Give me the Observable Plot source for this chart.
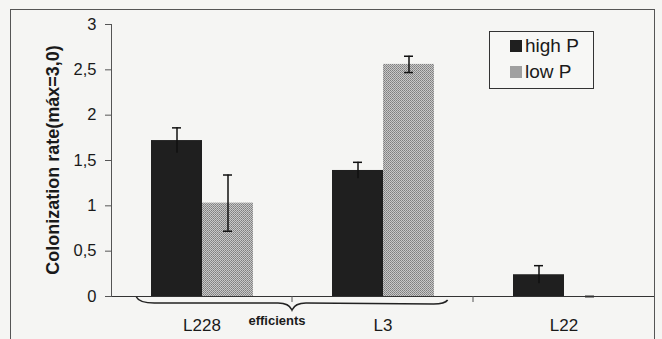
<!DOCTYPE html>
<html>
<head>
<meta charset="utf-8">
<script src="https://cdn.jsdelivr.net/npm/d3@7"></script>
<script src="https://cdn.jsdelivr.net/npm/@observablehq/plot@0.6"></script>
<style>
  html, body { margin: 0; padding: 0; background: #f5f5f3; overflow: hidden; }
  #wrap { position: relative; width: 662px; height: 339px; font-family: "Liberation Sans", Arial, sans-serif; }
  #border { position: absolute; left: 10px; top: 9px; width: 645px; height: 360px; border: 1px solid #555; box-sizing: border-box; pointer-events: none; }
  #legend { position: absolute; left: 489px; top: 31px; width: 105px; height: 58px; border: 1px solid #333; box-sizing: border-box; background: #f7f7f5; padding: 1px 0 0 20px; font-size: 19px; color: #1a1a1a; }
  #legend .item { display: flex; align-items: center; height: 26px; }
  #legend .sw { width: 12px; height: 12px; margin-right: 3px; }
</style>
</head>
<body>
<div id="wrap"><div id="border"></div></div>
<script>
// ---- data ----
const categories = ["L228", "L3", "L22"];
const series = ["high P", "low P"];
const highP = [1.72, 1.39, 0.24];
const lowP = [1.03, 2.56, 0];
const highErr = [0.14, 0.09, 0.10];
const lowErr = [0.31, 0.09, 0];
const yTicks = [0, 0.5, 1, 1.5, 2, 2.5, 3];
const yTickLabels = ["0", "0,5", "1", "1,5", "2", "2,5", "3"];
const yTitle = "Colonization rate(máx=3,0)";
const groupLabel = "efficients";
const groupedCats = ["L228", "L3"];

const seriesFill = {"high P": "#1f1f1f", "low P": "url(#dither)"};
const seriesSwatch = {"high P": "#1f1f1f", "low P": "#a0a0a0"};

const rows = [];
categories.forEach((c, i) => {
  rows.push({cat: c, series: "high P", value: highP[i], err: highErr[i]});
  rows.push({cat: c, series: "low P", value: lowP[i], err: lowErr[i]});
});

const defs = () => {
  const ns = "http://www.w3.org/2000/svg";
  const d = document.createElementNS(ns, "defs");
  d.innerHTML = `<pattern id="dither" width="2" height="2" patternUnits="userSpaceOnUse">
    <rect width="2" height="2" fill="#c8c8c8"/>
    <rect width="1" height="1" fill="#7e7e7e"/>
    <rect x="1" y="1" width="1" height="1" fill="#8e8e8e"/>
  </pattern>`;
  return d;
};

const plot = Plot.plot({
  width: 662,
  height: 339,
  marginLeft: 110,
  marginRight: 7,
  marginTop: 24,
  marginBottom: 43,
  style: {background: "transparent", fontFamily: "'Liberation Sans', Arial, sans-serif", color: "#1a1a1a"},
  fx: {domain: categories, padding: 0},
  x: {domain: series, paddingInner: 0, paddingOuter: 0.75, axis: null},
  y: {domain: [0, 3]},
  color: {type: "identity"},
  marks: [
    defs,
    Plot.barY(rows, {fx: "cat", x: "series", y: "value", fill: d => seriesFill[d.series]}),
    Plot.ruleX(rows, {fx: "cat", x: "series", y1: d => d.value - d.err, y2: d => d.value + d.err, stroke: "#111", strokeWidth: 1.5}),
    Plot.tickY(rows, {fx: "cat", x: "series", y: d => d.value + d.err, stroke: "#111", strokeWidth: 1.5, insetLeft: 21, insetRight: 21}),
    Plot.tickY(rows.filter(d => d.series === "low P"), {fx: "cat", x: "series", y: d => d.value - d.err, stroke: "#111", strokeWidth: 1.5, insetLeft: 21, insetRight: 21}),
    Plot.ruleY([0], {stroke: "#333", strokeWidth: 1}),
    Plot.frame({anchor: "left", facet: "super", stroke: "#555"}),
    Plot.axisY({ticks: yTicks, tickFormat: d => yTickLabels[yTicks.indexOf(d)], tickSize: 6, tickPadding: 9, fontSize: 16.5, label: null, stroke: "#555"}),
    Plot.axisFx({anchor: "bottom", tickSize: 0, tickPadding: 22, fontSize: 17, label: null})
  ]
});

const wrap = document.getElementById("wrap");
wrap.insertBefore(plot, wrap.firstChild);

// ---- annotations derived from scales ----
const svg = d3.select(plot);
const fx = plot.scale("fx");
const y = plot.scale("y");
const bw = fx.bandwidth;
const y0 = y.apply(0);

// category boundary ticks
categories.slice(1).forEach(c => {
  const xb = fx.apply(c);
  svg.append("line").attr("x1", xb).attr("x2", xb).attr("y1", y0).attr("y2", y0 + 6).attr("stroke", "#555");
});

// brace under the grouped categories
const bx0 = fx.apply(groupedCats[0]) + bw * 0.14;
const bmid = fx.apply(groupedCats[1]);
const bx1 = fx.apply(groupedCats[1]) + bw * 0.86;
const by = y0 + 7;
svg.append("path")
  .attr("d", `M${bx0},${y0 + 1} Q${bx0 + 3},${by} ${bx0 + 18},${by} L${bmid - 14},${by} Q${bmid - 3},${by} ${bmid},${by + 7} Q${bmid + 3},${by} ${bmid + 14},${by} L${bx1 - 14},${by + 1} Q${bx1 - 3},${by + 1} ${bx1},${y0 + 4}`)
  .attr("fill", "none").attr("stroke", "#222").attr("stroke-width", 1.6);
svg.append("text")
  .attr("x", bmid - 15).attr("y", y0 + 29)
  .attr("text-anchor", "middle")
  .attr("font-size", 13).attr("font-weight", "bold").attr("fill", "#1a1a1a")
  .text(groupLabel);

// y-axis title
svg.append("text")
  .attr("transform", `translate(54,${(y.apply(0) + y.apply(3)) / 2}) rotate(-90)`)
  .attr("text-anchor", "middle").attr("dominant-baseline", "middle")
  .attr("font-size", 18).attr("font-weight", "bold").attr("fill", "#1a1a1a")
  .text(yTitle);

// legend
const legend = document.createElement("div");
legend.id = "legend";
series.forEach(s => {
  const it = document.createElement("div");
  it.className = "item";
  const sw = document.createElement("div");
  sw.className = "sw";
  sw.style.background = seriesSwatch[s];
  const t = document.createElement("span");
  t.textContent = s;
  it.appendChild(sw); it.appendChild(t);
  legend.appendChild(it);
});
wrap.appendChild(legend);
</script>
</body>
</html>
